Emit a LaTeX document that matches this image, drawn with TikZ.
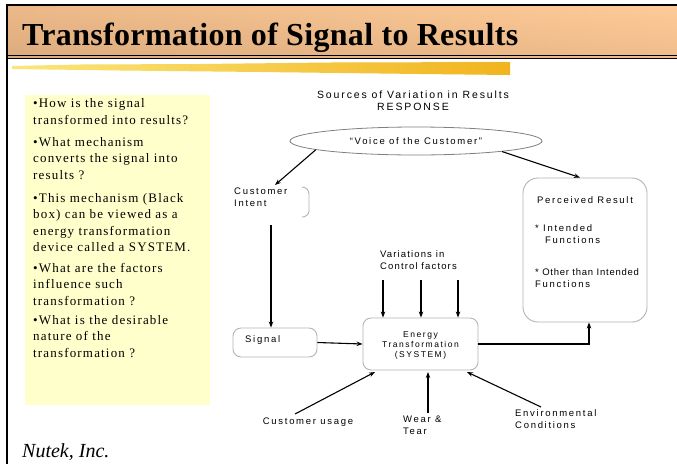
\documentclass[tikz,border=0pt]{standalone}
\usepackage{fontspec}
\setmainfont{Liberation Serif}
\newfontfamily\diagfont[LetterSpace=18]{Liberation Sans}
\newfontfamily\notefont[LetterSpace=9]{Liberation Serif}
\usetikzlibrary{arrows.meta,shapes.geometric,calc}
\definecolor{bandtop}{HTML}{FFCB98}
\definecolor{bandleft}{HTML}{DDAC7E}
\definecolor{notebg}{HTML}{FFFFCC}
\definecolor{boxedge}{HTML}{B4B4B4}
\definecolor{brushA}{HTML}{FAE67A}
\definecolor{brushB}{HTML}{F2B41E}
\tikzset{
  flow/.style={line width=1.1pt,-{Stealth[length=6pt,width=4.5pt]}},
  rbox/.style={draw=boxedge,line width=0.9pt,rounded corners=8pt,fill=white,inner sep=0pt},
  lbl/.style={font=\diagfont\fontsize{9.5}{12}\selectfont,inner sep=0pt,align=left},
  note/.style={font=\notefont\fontsize{13}{16.5}\selectfont,inner sep=0pt,anchor=north west,align=left},
}
\begin{document}
\begin{tikzpicture}[x=1pt,y=-1pt]
\useasboundingbox (0,0) rectangle (677,464);
\fill[white] (0,0) rectangle (677,464);

% title band and frame
\shade[left color=bandleft,right color=bandtop] (7,5) rectangle (677,57);
\shade[top color=bandtop,bottom color=bandleft,opacity=0.45] (7,5) rectangle (677,57);
\draw[line width=2pt] (7,4.5) -- (677,4.5);
\draw[line width=1pt] (7,55.5) -- (677,55.5);
\draw[line width=1pt] (7,58.5) -- (677,58.5);
\draw[line width=2pt] (7,4) -- (7,464);
\node[anchor=base west,inner sep=0pt,font=\addfontfeature{LetterSpace=1}\bfseries\fontsize{32}{36}\selectfont] (title) at (22,45) {Transformation of Signal to Results};

% brush stroke under the title
\shade[left color=brushA,right color=brushB]
  (12,66) -- (80,64.5) -- (200,64) -- (330,62.5) -- (510,62) -- (510,75)
  -- (420,74) -- (260,72) -- (120,70.5) -- (12,69) -- cycle;

% question panel
\fill[notebg] (25,95) rectangle (210,405);
\node[note] (q1) at (33,98.5) {•How is the signal\\transformed into results?};
\node[note] (q2) at (33,137) {•What mechanism\\converts the signal into\\results ?};
\node[note] (q3) at (33,193) {•This mechanism (Black\\box) can be viewed as a\\energy transformation\\device called a SYSTEM.};
\node[note] (q4) at (33,263) {•What are the factors\\influence such\\transformation ?};
\node[note] (q5) at (33,315) {•What is the desirable\\nature of the\\transformation ?};

\node[anchor=base west,inner sep=0pt,font=\itshape\fontsize{20}{22}\selectfont] (firm) at (22,457) {Nutek, Inc.};

% diagram
\node[lbl,align=center,font=\diagfont\fontsize{10.5}{12}\selectfont] (src) at (413,101) {Sources of Variation in Results\\RESPONSE};
\node[ellipse,draw=gray,line width=0.8pt,minimum width=252pt,minimum height=28pt,inner sep=0pt] (voc) at (416,141) {};
\node[lbl] at (voc) {“Voice of the Customer”};

\node[lbl,anchor=north west] (ci) at (234,188) {Customer\\Intent};
\draw[boxedge,line width=0.9pt] (302,187) to[out=0,in=90] (309,194) -- (309,211) to[out=-90,in=0] (302,217);
\coordinate (ciIn) at (275,185);
\coordinate (ciOut) at (271,225);

\node[rbox,minimum width=84pt,minimum height=29pt] (sig) at (275,342.5) {};
\node[lbl,anchor=west] (sigtext) at (245,340) {Signal};

\node[rbox,minimum width=115pt,minimum height=52pt] (en) at (420.5,344) {};
\node[font=\diagfont\fontsize{8.5}{10}\selectfont,align=center,inner sep=0pt] (entext) at (420.5,345.5) {Energy\\Transformation\\(SYSTEM)};

\node[rbox,rounded corners=15pt,minimum width=124pt,minimum height=144pt] (pr) at (585,250) {};
\node[lbl,anchor=base west] (prh) at (537,203) {Perceived Result};
\node[lbl,anchor=base west] (pr1) at (535,231) {*  Intended};
\node[lbl,anchor=base west] (pr1b) at (545,243) {Functions};
\node[lbl,anchor=base west,font=\diagfont\addfontfeature{LetterSpace=8}\fontsize{9.5}{12}\selectfont] (pr2) at (535,275) {* Other than Intended};
\node[lbl,anchor=base west] (pr2b) at (535,287) {Functions};

\node[lbl,anchor=north west,font=\diagfont\addfontfeature{LetterSpace=12}\fontsize{9.5}{11.5}\selectfont] (cf) at (380,250.5) {Variations in\\Control factors};
\coordinate (cf1) at (383,280);
\coordinate (cf2) at (421,280);
\coordinate (cf3) at (458,280);

\node[lbl,anchor=base] (cutext) at (308,424) {Customer usage};
\node[lbl,anchor=north west] (wttext) at (403,416) {Wear \&\\Tear};
\node[lbl,anchor=north west] (ectext) at (515,409.5) {Environmental\\Conditions};
\coordinate (cuS) at (295,414);
\coordinate (cuE) at (375,372);
\coordinate (wtS) at (428,413);
\coordinate (wtE) at (428,372);
\coordinate (ecS) at (541,407);
\coordinate (ecE) at (467,372);

% connectors
\draw[flow] (voc.185) -- (ciIn);
\draw[flow] (voc.353) -- ($(pr.north)+(-5,0)$);
\draw[flow] (ciOut) -- (ciOut |- sig.north);
\draw[flow] (sig.east) -- (en.west);
\draw[flow] (en.east) -| ($(pr.south)+(4,0)$);
\foreach \c in {cf1,cf2,cf3} \draw[flow] (\c) -- (\c |- en.north);
\draw[flow] (cuS) -- (cuE);
\draw[flow] (wtS) -- (wtE);
\draw[flow] (ecS) -- (ecE);
\end{tikzpicture}
\end{document}
